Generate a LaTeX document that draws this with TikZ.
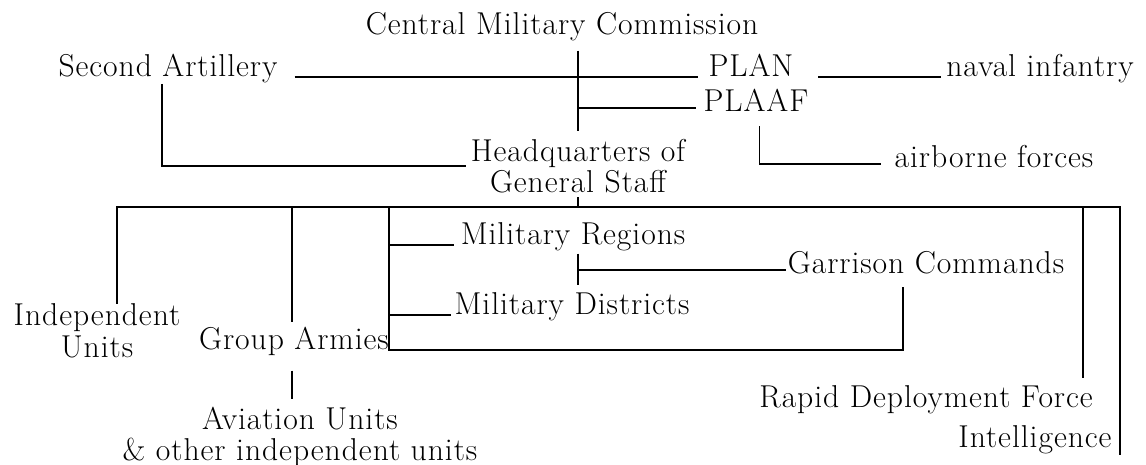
\documentclass[tikz,border=0pt]{standalone}
\usepackage{fontspec}
\setmainfont{Latin Modern Roman}[LetterSpace=3]
\usepackage{tikz}
\usetikzlibrary{positioning}

\begin{document}
\begin{tikzpicture}[
  x=0.02cm, y=-0.02cm,
  every node/.style={font=\fontsize{18}{18}\selectfont},
  unit/.style={inner sep=0pt, align=center},
  link/.style={line width=1pt}
]
\useasboundingbox (0,0) rectangle (1146,465);

% Top level
\node[unit, anchor=base] (cmc) at (562,35) {Central Military Commission};
\node[unit, anchor=base] (artillery) at (168,77) {Second Artillery};
\node[unit, anchor=base] (plan) at (751,77) {PLAN};
\node[unit, anchor=base] (naval) at (1040,77) {naval infantry};
\node[unit, anchor=base] (plaaf) at (756,112) {PLAAF};
\node[unit, anchor=base] (airborne) at (994,168) {airborne forces};
\node[unit] (hq) at (578,166) {Headquarters of\\General Staff};

% Lower level
\node[unit] (indep) at (97,331) {Independent\\Units};
\node[unit, anchor=base] (group) at (294,350) {Group Armies};
\node[unit] (aviation) at (300,437) {Aviation Units\\\& other independent units};
\node[unit, anchor=base] (regions) at (573,245) {Military Regions};
\node[unit, anchor=base] (districts) at (572,315) {Military Districts};
\node[unit, anchor=base] (garrison) at (926,274) {Garrison Commands};
\node[unit, anchor=base] (rapid) at (926,408) {Rapid Deployment Force};
\node[unit, anchor=base] (intel) at (1035,448) {Intelligence};

\coordinate (bus) at (578,207);
\coordinate (mil) at (group.base east |- bus);

% Upper links
\draw[link, shorten <=5pt, shorten >=4.5pt] (hq.north |- cmc.south) -- (hq.north);
\draw[link, shorten <=9.6pt, shorten >=5.7pt] (artillery.base east) -- (plan.base west);
\draw[link, shorten <=14pt, shorten >=2.8pt] (plan.base east) -- (naval.base west);
\draw[link, shorten >=4pt] (hq.north |- plaaf.mid west) -- (plaaf.mid west);
\draw[link, shorten <=8pt, shorten >=7.4pt] ([xshift=2pt]plaaf.south) |- (airborne.mid west);
\draw[link, shorten >=2.8pt] ([xshift=-3.5pt]artillery.south) |- (hq.west);
\draw[link, shorten <=2pt] (hq.south) -- (hq.south |- bus);

% Bus and branches
\draw[link] ([xshift=11.3pt]indep.north) |- ([xshift=4.5pt]intel.east |- bus) -- ([xshift=4.5pt]intel.south east);
\draw[link, shorten >=4.5pt] ([xshift=-5.7pt]rapid.north east |- bus) -- ([xshift=-5.7pt]rapid.north east);
\draw[link, shorten >=2.8pt] ([xshift=-1pt]group.north |- bus) -- ([xshift=-1pt]group.north);
\draw[link, shorten <=8pt, shorten >=4.5pt] ([xshift=-1pt]group.south) -- ([xshift=-1pt]group.south |- aviation.north);
\draw[link, shorten >=6.8pt] (mil) |- ([xshift=-13pt]garrison.south |- group.base east) -- ([xshift=-13pt]garrison.south);
\draw[link, shorten >=3.4pt] (mil |- regions.base west) -- (regions.base west);
\draw[link, shorten >=2pt] (mil |- districts.base west) -- (districts.base west);
\draw[link, shorten <=1pt, shorten >=4.5pt] (hq.south |- regions.south) -- (hq.south |- districts.north);
\draw[link, shorten >=1pt] (hq.south |- garrison.mid west) -- (garrison.mid west);
\end{tikzpicture}
\end{document}
